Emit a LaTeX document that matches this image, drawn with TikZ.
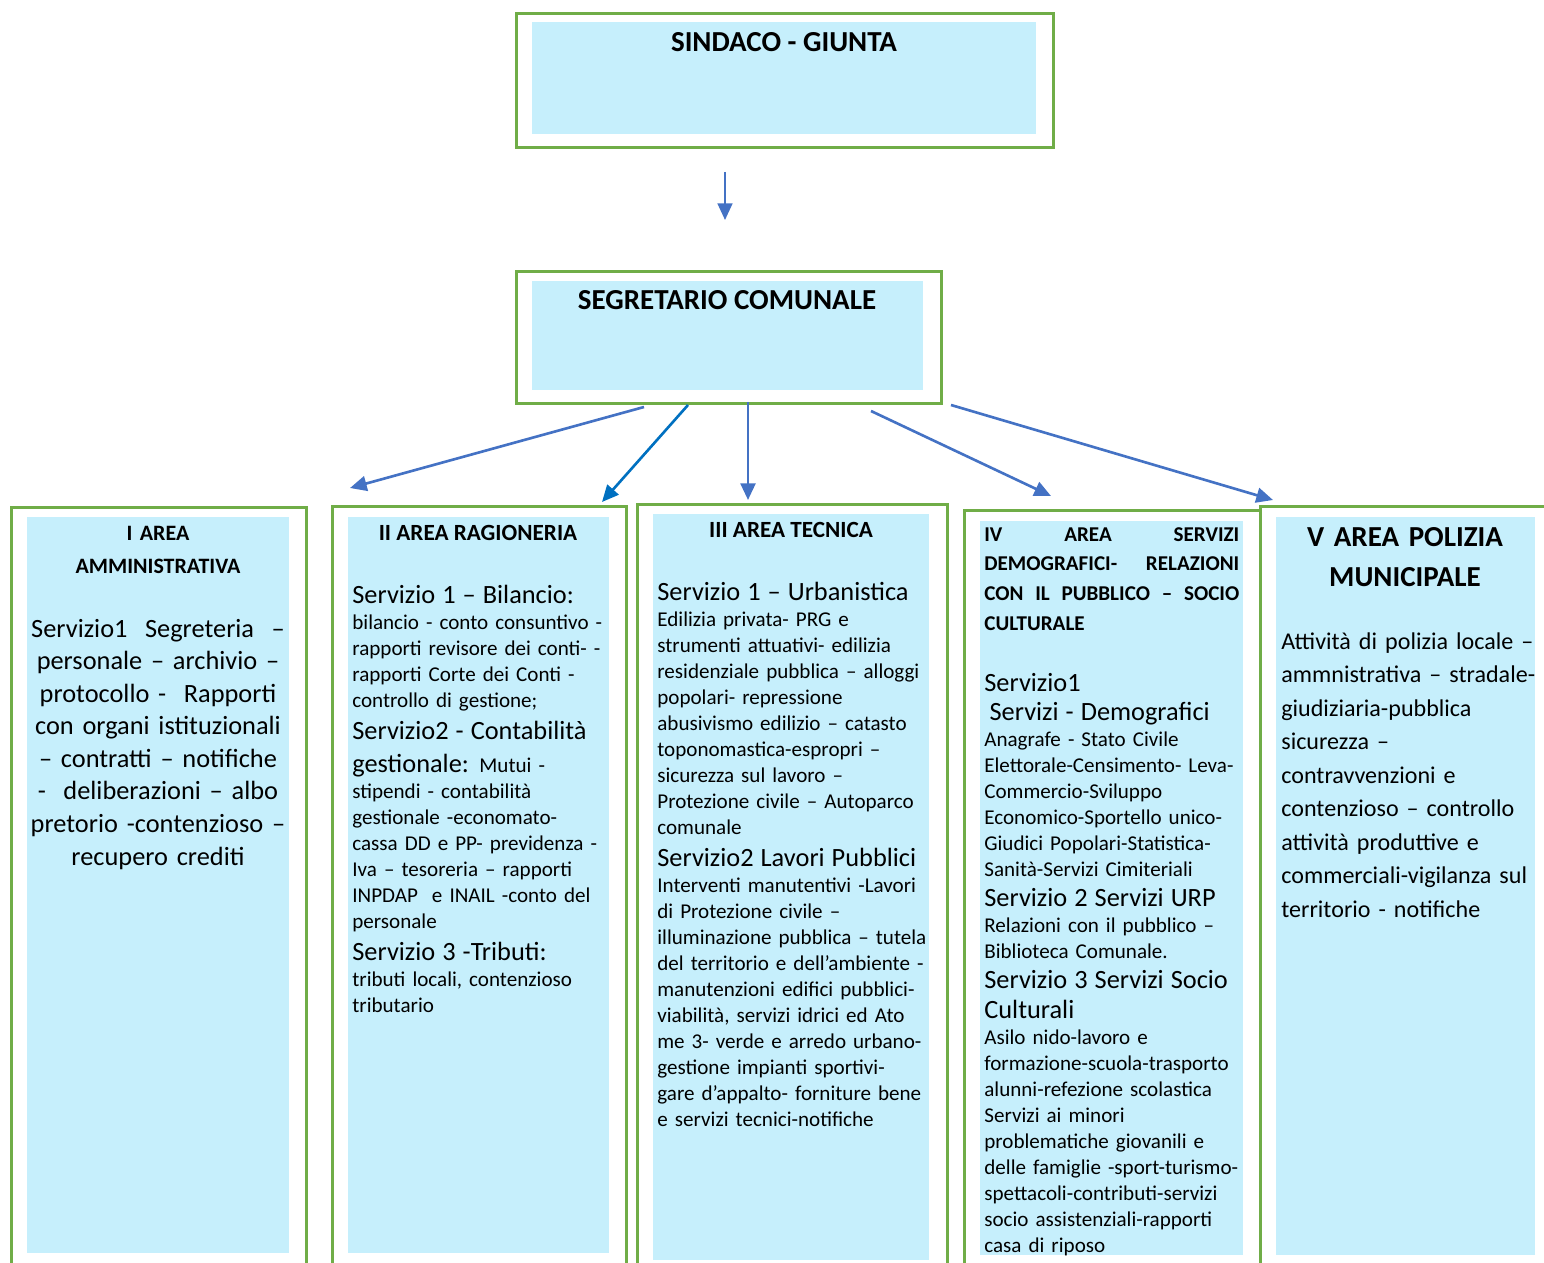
\documentclass[tikz,border=0pt]{standalone}
\usepackage{fontspec}
\setmainfont{Carlito}
\usetikzlibrary{arrows.meta}
\definecolor{areagreen}{HTML}{70AD47}
\definecolor{areafill}{HTML}{C6EFFC}
\definecolor{linkblue}{HTML}{4472C4}
\definecolor{linkdark}{HTML}{0070C0}
\newcommand{\txtL}{\fontsize{15}{18.5}\selectfont}
\newcommand{\txtS}{\fontsize{12}{14.8}\selectfont}
\begin{document}
\begin{tikzpicture}[x=0.02cm, y=-0.02cm,
  area box/.style={draw=areagreen, line width=1.7pt, anchor=north west, inner sep=0pt},
  fill box/.style={fill=areafill, anchor=north west, inner sep=0pt},
  title/.style={anchor=base, align=center, inner sep=0pt},
  body/.style={anchor=base west, align=left, inner sep=0pt, font=\txtS},
  link/.style={draw=linkblue, line width=1.5pt, -{Triangle[length=9.5pt,width=8.5pt]}}]
\useasboundingbox (0,0) rectangle (1544,1263);
\clip (0,0) rectangle (1544,1263);
\node[area box, minimum width=10.74cm, minimum height=2.68cm] (1) at (515,12) {};
\node[fill box, minimum width=10.08cm, minimum height=2.24cm] (1f) at (532,22) {};
\node[title, font=\bfseries\fontsize{16.5}{20}\selectfont] (1t) at (784,52) {SINDACO - GIUNTA};
\node[area box, minimum width=8.5cm, minimum height=2.64cm] (2) at (515,270) {};
\node[fill box, minimum width=7.82cm, minimum height=2.18cm] (2f) at (532,281) {};
\node[title, font=\bfseries\fontsize{16.5}{20}\selectfont] (2t) at (727,310) {SEGRETARIO COMUNALE};
\node[area box, minimum width=5.9cm, minimum height=15.38cm] (3) at (10,506) {};
\node[fill box, minimum width=5.24cm, minimum height=14.72cm] (3f) at (27,517) {};
\node[area box, minimum width=5.88cm, minimum height=15.4cm] (4) at (331,505) {};
\node[fill box, minimum width=5.22cm, minimum height=14.72cm] (4f) at (348,517) {};
\node[area box, minimum width=6.2cm, minimum height=15.44cm] (5) at (636,503) {};
\node[fill box, minimum width=5.52cm, minimum height=14.92cm] (5f) at (653,514) {};
\node[area box, minimum width=5.92cm, minimum height=15.32cm] (6) at (963,509) {};
\node[fill box, minimum width=5.26cm, minimum height=14.68cm] (6f) at (980,521) {};
\node[area box, minimum width=6.02cm, minimum height=15.4cm] (7) at (1259,505) {};
\node[fill box, minimum width=5.18cm, minimum height=14.76cm] (7f) at (1276,517) {};
\node[title, text width=5cm, font=\bfseries\fontsize{12.5}{19.3}\selectfont] (3t) at (158,540) {I AREA\\AMMINISTRATIVA};
\node[title, text width=5.6cm, font=\fontsize{15}{18.55}\selectfont] (3b) at (158,637) {Servizio1 \ Segreteria \ –\\personale – archivio –\\protocollo - \ Rapporti\\con organi istituzionali\\– contratti – notifiche\\- \ deliberazioni – albo\\pretorio -contenzioso –\\recupero crediti};
\node[title, font=\bfseries\fontsize{13.2}{16}\selectfont] (4t) at (478,540) {II AREA RAGIONERIA};
\node[body, text width=5.6cm] (4b) at (352,603) {\txtL Servizio 1 – Bilancio:\\
  \txtS bilancio - conto consuntivo -\\rapporti revisore dei conti- -\\rapporti Corte dei Conti -\\controllo di gestione;\\
  \txtL Servizio2 - Contabilità\\gestionale: {\txtS Mutui -}\\
  \txtS stipendi - contabilità\\gestionale -economato-\\cassa DD e PP- previdenza -\\Iva – tesoreria – rapporti\\INPDAP \ e INAIL -conto del\\personale\\
  \txtL Servizio 3 -Tributi:\\
  \txtS tributi locali, contenzioso\\tributario\par};
\node[title, font=\bfseries\fontsize{13.2}{16}\selectfont] (5t) at (791,537) {III AREA TECNICA};
\node[body, text width=5.6cm] (5b) at (657,600) {\txtL Servizio 1 – Urbanistica\\
  \txtS Edilizia privata- PRG e\\strumenti attuativi- edilizia\\residenziale pubblica – alloggi\\popolari- repressione\\abusivismo edilizio – catasto\\toponomastica-espropri –\\sicurezza sul lavoro –\\Protezione civile – Autoparco\\comunale\\
  \txtL Servizio2 Lavori Pubblici\\
  \txtS Interventi manutentivi -Lavori\\di Protezione civile –\\illuminazione pubblica – tutela\\del territorio e dell’ambiente -\\manutenzioni edifici pubblici-\\viabilità, servizi idrici ed Ato\\me 3- verde e arredo urbano-\\gestione impianti sportivi-\\gare d’appalto- forniture bene\\e servizi tecnici-notifiche\par};
\node[body, text width=5.1cm, font=\bfseries\fontsize{12}{16.9}\selectfont] (6t) at (984,541) {\makebox[5.1cm][s]{IV\hfill AREA\hfill SERVIZI}\\\makebox[5.1cm][s]{DEMOGRAFICI-\hfill RELAZIONI}\\\makebox[5.1cm][s]{CON\hfill IL\hfill PUBBLICO\hfill –\hfill SOCIO}\\CULTURALE};
\node[body, text width=5.4cm] (6b) at (984,691) {\fontsize{15}{17}\selectfont Servizio1\\\hspace{3pt}Servizi - Demografici\\
  \txtS Anagrafe - Stato Civile\\Elettorale-Censimento- Leva-\\Commercio-Sviluppo\\Economico-Sportello unico-\\Giudici Popolari-Statistica-\\Sanità-Servizi Cimiteriali\\
  \fontsize{15}{17}\selectfont Servizio 2 Servizi URP\\
  \txtS Relazioni con il pubblico –\\Biblioteca Comunale.\\
  \fontsize{15}{17}\selectfont Servizio 3 Servizi Socio\\Culturali\\
  \txtS Asilo nido-lavoro e\\formazione-scuola-trasporto\\alunni-refezione scolastica\\Servizi ai minori\\problematiche giovanili e\\delle famiglie -sport-turismo-\\spettacoli-contributi-servizi\\socio assistenziali-rapporti\\casa di riposo\par};
\node[title, text width=5.4cm, font=\bfseries\fontsize{16.5}{23.3}\selectfont] (7t) at (1405,546) {V AREA POLIZIA\\MUNICIPALE};
\node[body, text width=5.2cm, font=\fontsize{13.7}{19.1}\selectfont] (7b) at (1281,649) {Attività di polizia locale –\\ammnistrativa – stradale-\\giudiziaria-pubblica\\sicurezza –\\contravvenzioni e\\contenzioso – controllo\\attività produttive e\\commerciali-vigilanza sul\\territorio - notifiche};
\coordinate (a0) at (725,172);
\coordinate (b0) at (725,220);
\coordinate (a1) at (644,407);
\coordinate (b1) at (350,488);
\coordinate (a2) at (688,405);
\coordinate (b2) at (602,502);
\coordinate (a3) at (748,402);
\coordinate (b3) at (748,500);
\coordinate (a4) at (871,411);
\coordinate (b4) at (1051,496);
\coordinate (a5) at (951,405);
\coordinate (b5) at (1273,500);
\path (a0) edge[link, line width=1.1pt] (b0)
  (a1) edge[link] (b1)
  (a2) edge[link, draw=linkdark] (b2)
  (a3) edge[link] (b3)
  (a4) edge[link] (b4)
  (a5) edge[link] (b5);
\end{tikzpicture}
\end{document}
